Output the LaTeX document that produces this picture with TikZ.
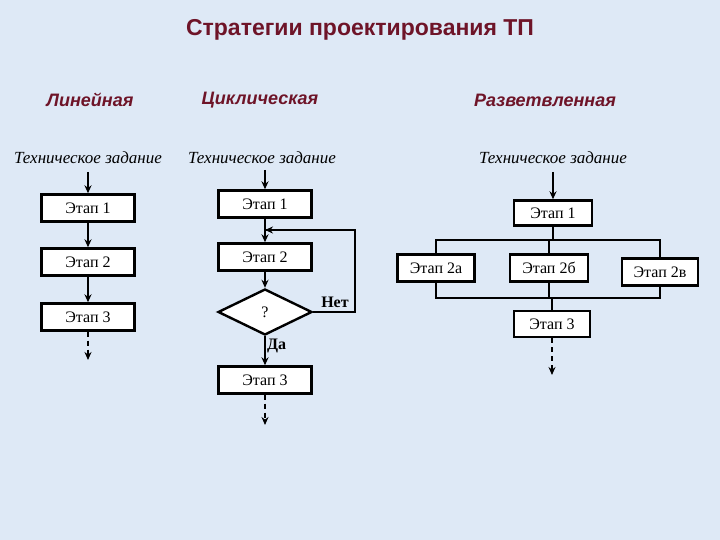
\documentclass[tikz,border=0pt]{standalone}
\usepackage{fontspec}
\setmainfont{Liberation Serif}
\newfontfamily\headfont{Liberation Sans}
\usetikzlibrary{shapes.geometric,arrows.meta}
\definecolor{bgblue}{RGB}{222,233,246}
\definecolor{headred}{RGB}{110,20,40}
\tikzset{
  stage/.style={draw=black, line width=2.4pt, fill=white, minimum height=27pt, inner sep=0pt, font=\fontsize{16}{18}\selectfont},
  head/.style={font=\headfont\bfseries\itshape\fontsize{18}{20}\selectfont, text=headred},
  task/.style={font=\itshape\fontsize{17}{19}\selectfont},
  flow/.style={-{Stealth[length=8pt,width=7pt]}, line width=2pt},
  tail/.style={-{Stealth[length=8pt,width=7pt]}, line width=2.4pt, dash pattern=on 5pt off 4pt},
  link/.style={line width=2pt}
}
\begin{document}
\begin{tikzpicture}[x=1pt,y=-1pt]
\fill[bgblue] (0,0) rectangle (720,540);
\node[font=\headfont\bfseries\fontsize{23}{25}\selectfont, text=headred] (title) at (360,30) {Стратегии проектирования ТП};
%% linear
\node[head] (hlin) at (90,100) {Линейная};
\node[task] (tlin) at (88,158) {Техническое задание};
\node[stage, minimum width=93pt] (l1) at (88,208) {Этап 1};
\node[stage, minimum width=93pt] (l2) at (88,262) {Этап 2};
\node[stage, minimum width=93pt] (l3) at (88,317) {Этап 3};
\coordinate (lstart) at (88,172);
\coordinate (lend) at (88,360);
\draw[flow] (lstart) -- (l1);
\draw[flow] (l1) -- (l2);
\draw[flow] (l2) -- (l3);
\draw[tail] (l3) -- (lend);
%% cyclic
\node[head] (hcyc) at (260,100) {Циклическая};
\node[task] (tcyc) at (262,158) {Техническое задание};
\node[stage, minimum width=93pt] (c1) at (265,204) {Этап 1};
\node[stage, minimum width=93pt] (c2) at (265,257) {Этап 2};
\node[diamond, draw=black, line width=2.4pt, fill=white, minimum width=94pt, minimum height=46pt, inner sep=0pt, aspect=2, font=\fontsize{16}{18}\selectfont] (cq) at (265,312) {?};
\node[stage, minimum width=93pt] (c3) at (265,380) {Этап 3};
\coordinate (cstart) at (265,170);
\coordinate (cend) at (265,425);
\coordinate (cloop) at (355,230);
\coordinate (cjoin) at (265,230);
\draw[flow] (cstart) -- (c1);
\draw[flow] (c1) -- (c2);
\draw[flow] (c2) -- (cq);
\draw[link] (cq.east) -| (cloop) -- (cjoin);
\draw[flow] (cloop) -- (cjoin);
\node[font=\bfseries\fontsize{16}{18}\selectfont] (cno) at (335,302) {Нет};
\draw[flow] (cq) -- (c3) node[pos=0.35, right, font=\bfseries\fontsize{16}{18}\selectfont, inner sep=1pt] {Да};
\draw[tail] (c3) -- (cend);
%% branched
\node[head] (hbr) at (545,100) {Разветвленная};
\node[task] (tbr) at (553,158) {Техническое задание};
\node[stage, minimum width=78pt, minimum height=25pt] (b1) at (553,213) {Этап 1};
\node[stage, minimum width=77pt] (b2a) at (436,268) {Этап 2а};
\node[stage, minimum width=78pt] (b2b) at (549,268) {Этап 2б};
\node[stage, minimum width=76pt] (b2c) at (660,272) {Этап 2в};
\node[stage, minimum width=76pt, minimum height=26pt] (b3) at (552,324) {Этап 3};
\coordinate (bstart) at (553,172);
\coordinate (bend) at (552,375);
\coordinate (bsplit) at (553,240);
\coordinate (bmerge) at (552,298);
\draw[flow] (bstart) -- (b1);
\draw[link] (b1) -- (bsplit);
\draw[link] (b2a.north) |- (bsplit) -| (b2c.north);
\draw[link] (b2b.north) -- (b2b.north |- bsplit);
\draw[link] (b2a.south) |- (bmerge) -| (b2c.south);
\draw[link] (b2b.south) -- (b2b.south |- bmerge);
\draw[link] (bmerge) -- (b3);
\draw[tail] (b3) -- (bend);
\end{tikzpicture}
\end{document}
